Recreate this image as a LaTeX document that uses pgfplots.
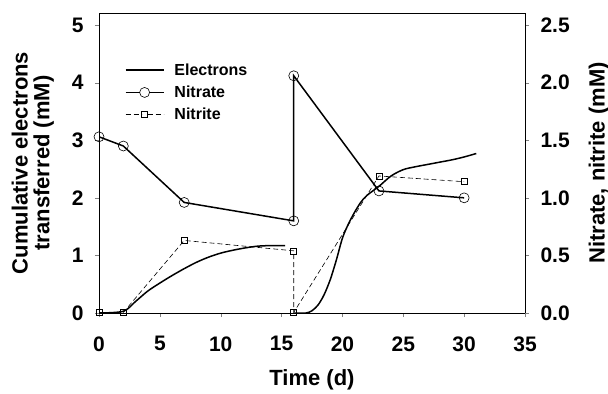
\documentclass[border=0pt]{standalone}
\usepackage{pgfplots}
\pgfplotsset{compat=1.18}
\usepackage{fontspec}
\setmainfont{Liberation Sans}
\newcommand{\tkfont}{\fontsize{21}{22}\selectfont\bfseries}
\newcommand{\lbfont}{\fontsize{22}{21.7}\selectfont\bfseries}
\newcommand{\lgfont}{\fontsize{16}{17}\selectfont\bfseries}
\begin{document}
\begin{tikzpicture}
\begin{axis}[
  name=main,
  scale only axis, width=426pt, height=300pt,
  xmin=0, xmax=35, ymin=0, ymax=5.21,
  xtick={0,5,...,35}, ytick={0,1,...,5},
  xtick pos=bottom, ytick pos=left,
  tick align=outside, major tick length=4pt,
  axis line style={line width=0.6pt},
  /pgf/number format/assume math mode=true,
  ticklabel style={font=\tkfont},
  xticklabel style={yshift=-16pt},
  yticklabel style={xshift=-8pt},
  xlabel={Time (d)},
  ylabel={Cumulative electrons\\transferred (mM)},
  xlabel style={font=\lbfont, yshift=-11pt},
  ylabel style={font=\lbfont, align=center, yshift=11pt},
]
\addplot[black, line width=1.5pt, smooth] coordinates {
(0,0) (2,0.03) (3,0.2) (4,0.38) (5,0.52) (6,0.65) (7,0.77) (8,0.88) (9,0.97) (10,1.04) (11,1.09) (12,1.13) (13,1.16) (14,1.17) (15.3,1.17)};
\addplot[black, line width=1.5pt, smooth] coordinates {
(16,0) (17,0) (17.5,0.04) (18,0.14) (18.5,0.32) (19,0.58) (19.5,0.92) (20,1.3) (20.5,1.55) (21,1.75) (21.5,1.92) (22,2.04) (23,2.2) (24,2.38) (25,2.49) (26,2.54) (27,2.58) (28,2.62) (29,2.66) (30,2.71) (31,2.77)};
\end{axis}
\begin{axis}[
  scale only axis, width=426pt, height=300pt,
  xmin=0, xmax=35, ymin=0, ymax=2.605,
  axis x line=none, axis y line*=right,
  ytick={0,0.5,...,2.5},
  tick align=outside, major tick length=4pt,
  axis line style={line width=0.6pt},
  /pgf/number format/assume math mode=true,
  yticklabel style={font=\tkfont, xshift=8pt, /pgf/number format/.cd, fixed, fixed zerofill, precision=1},
  ylabel={Nitrate, nitrite (mM)},
  ylabel style={font=\lbfont, yshift=-12pt},
  legend style={at={(0.06,0.838)}, anchor=north west, draw=none, fill=none, font=\lgfont, row sep=5pt, inner sep=0pt,
    /tikz/every odd column/.append style={column sep=8pt}},
  legend cell align=left,
]
\addlegendimage{legend image code/.code={\draw[black, line width=1.7pt] (0pt,0pt) -- (38pt,0pt);}}
\addlegendentry{Electrons}
\addlegendimage{legend image code/.code={\draw[black, line width=1.7pt] (0pt,0pt) -- (14pt,0pt); \draw[black, line width=1.7pt] (24pt,0pt) -- (38pt,0pt); \draw[black, line width=0.6pt] (19pt,0pt) circle (5pt);}}
\addlegendentry{Nitrate}
\addlegendimage{legend image code/.code={\draw[black, line width=0.6pt, dash pattern=on 5pt off 3pt] (0pt,0pt) -- (16pt,0pt); \draw[black, line width=0.6pt, dash pattern=on 5pt off 3pt] (22pt,0pt) -- (38pt,0pt); \draw[black, line width=0.5pt] (16pt,-3pt) rectangle (22pt,3pt);}}
\addlegendentry{Nitrite}
\addplot[forget plot, black, line width=1.5pt, mark=o, mark size=5pt, mark options={line width=0.6pt, solid}] coordinates {
(0,1.53) (2,1.45) (7,0.96) (16,0.80) (16,2.06) (23,1.06) (30,1.00)};
\addplot[forget plot, black, line width=0.6pt, dash pattern=on 5pt off 3pt, mark=square, mark size=3pt, mark options={solid, line width=0.5pt}] coordinates {
(0,0.005) (2,0.005) (7,0.63) (16,0.54) (16,0.005) (23,1.19) (30,1.14)};
\end{axis}
\pgfresetboundingbox
\path[use as bounding box] ([shift={(-99pt,-80pt)}]main.south west) rectangle ([shift={(83pt,13pt)}]main.north east);
\end{tikzpicture}
\end{document}
